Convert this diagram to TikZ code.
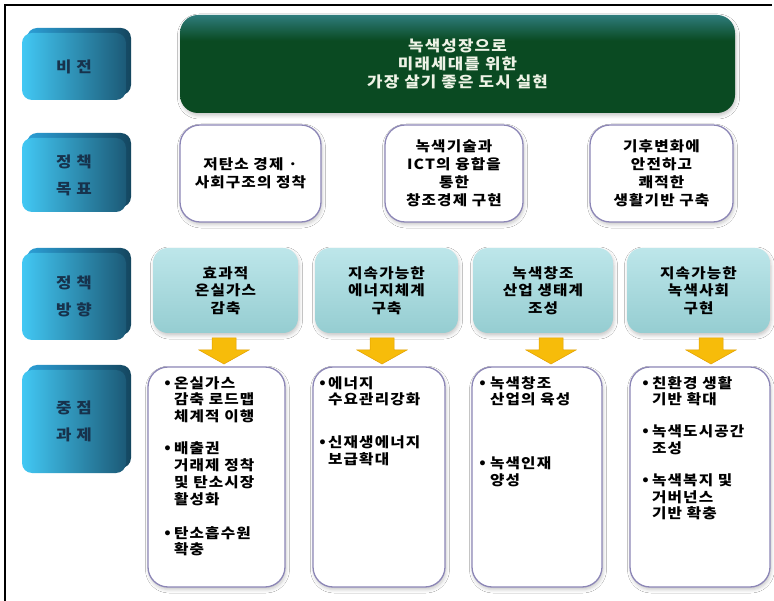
\documentclass[tikz,border=0pt]{standalone}
\usepackage{fontspec}
\setmainfont{Noto Sans CJK KR}[FakeStretch=1.12,LetterSpace=8]
\newfontfamily\bulletfont{DejaVu Sans}
\usetikzlibrary{shadows.blur}
\definecolor{lblL}{HTML}{42C8F4}
\definecolor{lblR}{HTML}{1C5A77}
\definecolor{lblBL}{HTML}{2C9FD6}
\definecolor{lblBR}{HTML}{14465F}
\definecolor{lbltxt}{HTML}{17324C}
\definecolor{gtop}{HTML}{2E7C7C}
\definecolor{gmain}{HTML}{0A4A22}
\definecolor{visiontxt}{HTML}{EEF3E6}
\definecolor{boxline}{HTML}{8C86B6}
\definecolor{tealT}{HTML}{BDE6EA}
\definecolor{tealB}{HTML}{95CDD1}
\definecolor{arrowY}{HTML}{F7BC0A}
\definecolor{arrowE}{HTML}{E2A000}
\pgfdeclareverticalshading{greenshade}{100bp}{color(0bp)=(gmain); color(25bp)=(gmain); color(62bp)=(gmain); color(75bp)=(gtop); color(100bp)=(gtop)}
\newcommand{\bul}{{\bulletfont\bfseries •}}
\tikzset{
  softshadow/.style={blur shadow={shadow xshift=1pt,shadow yshift=-2.5pt,shadow blur radius=3.5pt,shadow opacity=22}},
  lblfront/.style={rounded corners=10pt, left color=lblL, right color=lblR, minimum width=104pt, inner sep=0pt,
    font=\fontsize{15}{27}\selectfont\bfseries, text=lbltxt, align=center},
  lblback/.style={rounded corners=10pt, left color=lblBL, right color=lblBR},
  visionbox/.style={shading=greenshade, rounded corners=18pt, minimum width=555pt, minimum height=98pt,
    text=visiontxt, align=center, font=\fontsize{15}{18}\selectfont\bfseries, softshadow},
  goalbox/.style={draw=boxline, line width=1.3pt, fill=white, rounded corners=20pt, minimum height=97pt,
    align=center, font=\fontsize{14}{18}\selectfont\bfseries, softshadow},
  dirbox/.style={top color=tealT, bottom color=tealB, rounded corners=15pt, minimum height=85pt,
    align=center, font=\fontsize{14}{17.5}\selectfont\bfseries, softshadow},
  taskbox/.style={draw=boxline, line width=1.3pt, fill=white, rounded corners=20pt, minimum height=220pt, softshadow},
  tasktext/.style={anchor=north west, inner sep=0pt, font=\fontsize{14}{16.5}\selectfont\bfseries},
  blockarrow/.style={fill=arrowY, draw=arrowE, line width=0.5pt, line join=miter},
  frameline/.style={line width=1.6pt}
}
\begin{document}
\begin{tikzpicture}[x=1pt,y=-1pt]
\useasboundingbox (0,0) rectangle (774,601);
\fill[white] (0,0) rectangle (774,601);
\draw[frameline] (5,601) -- (5,5) -- (772,5);

% left labels (3D blocks)
\path[lblback] (27,28) rectangle (131,95);
\node[lblfront, minimum height=67pt] (lvision) at (74,66.5) {비\,\,전};
\path[lblback] (27,133) rectangle (131,207);
\node[lblfront, minimum height=74pt] (lgoal) at (74,175) {정\,\,책\\목\,\,표};
\path[lblback] (27,248) rectangle (131,335);
\node[lblfront, minimum height=87pt] (ldir) at (74,296.5) {정\,\,책\\방\,\,향};
\path[lblback] (27,365) rectangle (131,468);
\node[lblfront, minimum height=103pt] (ltask) at (74,421.5) {중\,\,점\\과\,\,제};

% vision
\node[visionbox] (vision) at (457.5,64) {녹색성장으로\\미래세대를 위한\\가장 살기 좋은 도시 실현};

% goals
\node[goalbox, minimum width=141pt] (g1) at (250.5,173.5) {저탄소 경제 ·\\사회구조의 정착};
\node[goalbox, minimum width=138pt] (g2) at (454,173.5) {녹색기술과\\ICT의 융합을\\통한\\창조경제 구현};
\node[goalbox, minimum width=143pt] (g3) at (661.5,173.5) {기후변화에\\안전하고\\쾌적한\\생활기반 구축};

% directions
\node[dirbox, minimum width=145pt] (d1) at (225.5,290.5) {효과적\\온실가스\\감축};
\node[dirbox, minimum width=143pt] (d2) at (386.5,290.5) {지속가능한\\에너지체계\\구축};
\node[dirbox, minimum width=140pt] (d3) at (543,290.5) {녹색창조\\산업 생태계\\조성};
\node[dirbox, minimum width=143pt] (d4) at (698.5,290.5) {지속가능한\\녹색사회\\구현};

% block arrows
\foreach \n/\cx in {1/224,2/382,3/551,4/711}{
  \coordinate (ar\n) at (\cx,338);
  \path[blockarrow] (ar\n) ++(-12,0) -- ++(24,0) -- ++(0,12) -- ++(13,0) -- ++(-25,14) -- ++(-25,-14) -- ++(13,0) -- cycle;
}

% tasks
\node[taskbox, minimum width=137pt] (t1) at (216.5,477) {};
\node[taskbox, minimum width=132pt] (t2) at (379,477) {};
\node[taskbox, minimum width=130pt] (t3) at (537,477) {};
\node[taskbox, minimum width=140pt] (t4) at (700,477) {};

\node[tasktext] (t1txt) at (163,376) {\begin{tabular}{@{}l@{\hspace{2pt}}l@{}}
\bul & 온실가스\\ & 감축 로드맵\\ & 체계적 이행\\[15.5pt]
\bul & 배출권\\ & 거래제 정착\\ & 및 탄소시장\\ & 활성화\\[17pt]
\bul & 탄소흡수원\\ & 확충\end{tabular}};
\node[tasktext] (t2txt) at (318,376) {\begin{tabular}{@{}l@{\hspace{1pt}}l@{}}
\bul & 에너지\\ & 수요관리강화\\[26pt]
\bul & 신재생에너지\\ & 보급확대\end{tabular}};
\node[tasktext] (t3txt) at (478,376) {\begin{tabular}{@{}l@{\hspace{3pt}}l@{}}
\bul & 녹색창조\\ & 산업의 육성\\[47pt]
\bul & 녹색인재\\ & 양성\end{tabular}};
\node[tasktext] (t4txt) at (641,376) {\begin{tabular}{@{}l@{\hspace{2pt}}l@{}}
\bul & 친환경 생활\\ & 기반 확대\\[15pt]
\bul & 녹색도시공간\\ & 조성\\[15pt]
\bul & 녹색복지 및\\ & 거버넌스\\ & 기반 확충\end{tabular}};
\end{tikzpicture}
\end{document}
